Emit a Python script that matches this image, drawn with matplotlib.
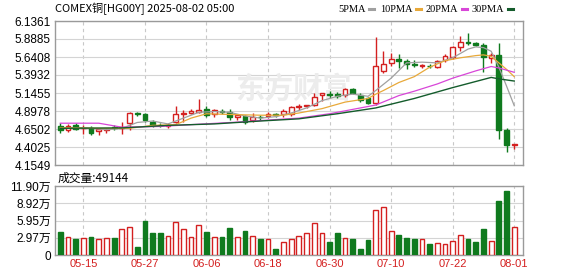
import matplotlib
matplotlib.use('Agg')
import matplotlib.pyplot as plt
from matplotlib.lines import Line2D

plt.rcParams['font.family'] = ['Liberation Sans', 'Noto Sans CJK SC', 'DejaVu Sans']

# daily candles, 2025-05-12 .. 2025-08-01
opens = [4.69, 4.64, 4.70, 4.66, 4.67, 4.62, 4.63, 4.68, 4.67, 4.73,
         4.87, 4.85, 4.75, 4.71, 4.69, 4.74, 4.86, 4.87, 4.885, 4.92,
         4.855, 4.90, 4.88, 4.82, 4.83, 4.77, 4.82, 4.83, 4.85, 4.86,
         4.86, 4.95, 4.965, 4.98, 5.12, 5.13, 5.125, 5.12, 5.20, 5.12,
         5.07, 5.01, 5.45, 5.555, 5.62, 5.59, 5.55, 5.515, 5.52, 5.51,
         5.60, 5.645, 5.774, 5.85, 5.84, 5.81, 5.63, 5.668, 4.64, 4.43]
highs = [4.73, 4.72, 4.73, 4.70, 4.69, 4.66, 4.67, 4.70, 4.74, 4.89,
         4.89, 4.87, 4.78, 4.73, 4.73, 4.96, 4.91, 4.93, 5.06, 4.96,
         4.93, 4.93, 4.92, 4.86, 4.84, 4.87, 4.84, 4.88, 4.87, 4.93,
         4.96, 5.00, 4.98, 5.15, 5.15, 5.17, 5.16, 5.22, 5.22, 5.15,
         5.095, 5.91, 5.73, 5.69, 5.68, 5.61, 5.60, 5.55, 5.54, 5.60,
         5.68, 5.79, 5.93, 5.97, 5.85, 5.84, 5.69, 5.84, 4.66, 4.445]
lows = [4.59, 4.61, 4.63, 4.58, 4.57, 4.57, 4.60, 4.64, 4.58, 4.64,
        4.83, 4.75, 4.68, 4.68, 4.66, 4.73, 4.74, 4.85, 4.87, 4.81,
        4.82, 4.85, 4.78, 4.78, 4.72, 4.74, 4.78, 4.80, 4.81, 4.81,
        4.83, 4.91, 4.94, 4.96, 5.03, 5.07, 5.08, 5.095, 5.13, 5.02,
        4.99, 4.98, 5.42, 5.52, 5.49, 5.47, 5.50, 5.49, 5.49, 5.49,
        5.57, 5.61, 5.73, 5.80, 5.79, 5.44, 5.554, 4.51, 4.33, 4.37]
closes = [4.63, 4.69, 4.65, 4.67, 4.59, 4.645, 4.655, 4.66, 4.68, 4.87,
          4.85, 4.77, 4.70, 4.70, 4.71, 4.86, 4.875, 4.90, 4.905, 4.84,
          4.91, 4.885, 4.81, 4.84, 4.74, 4.82, 4.81, 4.85, 4.84, 4.90,
          4.95, 4.965, 4.975, 5.095, 5.14, 5.115, 5.11, 5.196, 5.14, 5.05,
          5.01, 5.52, 5.55, 5.62, 5.59, 5.545, 5.535, 5.525, 5.515, 5.585,
          5.655, 5.774, 5.85, 5.84, 5.81, 5.645, 5.668, 4.63, 4.435, 4.44]
# volume in 万 (10k contracts)
volume_wan = [4.02, 3.09, 2.80, 2.97, 3.15, 2.74, 2.97, 2.97, 4.49, 4.90,
              1.40, 5.83, 3.73, 3.73, 3.32, 5.77, 4.49, 3.15, 5.25, 4.02,
              3.15, 3.15, 4.72, 3.15, 4.20, 3.32, 2.80, 2.80, 1.05, 2.27,
              2.74, 3.32, 3.73, 5.60, 3.85, 2.16, 3.73, 2.97, 2.80, 1.05,
              2.62, 7.80, 8.20, 4.14, 3.50, 2.97, 2.80, 2.74, 1.98, 2.10,
              1.98, 2.45, 3.50, 2.80, 2.16, 4.55, 2.45, 9.28, 11.03, 4.9144]

# moving averages (bar index, value)
ma5_idx = [0, 3, 6, 8, 10, 12, 14, 16, 18, 20, 22, 24, 26, 28, 30, 32, 34, 36,
           38, 40, 41, 43, 45, 47, 49, 51, 53, 54, 55, 56, 57, 58, 59]
ma5_val = [4.66, 4.67, 4.64, 4.66, 4.74, 4.76, 4.72, 4.80, 4.88, 4.89, 4.88,
           4.83, 4.80, 4.82, 4.87, 4.94, 5.04, 5.10, 5.13, 5.10, 5.18, 5.35,
           5.56, 5.57, 5.56, 5.63, 5.75, 5.78, 5.77, 5.72, 5.50, 5.24, 4.97]
ma10_idx = [0, 5, 9, 12, 15, 17, 19, 22, 26, 29, 31, 34, 37, 40, 41, 42, 44,
            46, 48, 50, 52, 54, 55, 56, 57, 58, 59]
ma10_val = [4.67, 4.66, 4.66, 4.70, 4.71, 4.80, 4.86, 4.85, 4.84, 4.84, 4.87,
            4.93, 5.02, 5.07, 5.13, 5.18, 5.29, 5.37, 5.50, 5.59, 5.63, 5.66,
            5.67, 5.65, 5.56, 5.47, 5.37]
ma20_idx = [0, 5, 8, 13, 17, 23, 28, 31, 35, 38, 41, 44, 46, 49, 51, 54, 56,
            57, 58, 59]
ma20_val = [4.73, 4.73, 4.675, 4.685, 4.71, 4.745, 4.78, 4.80, 4.86, 4.92,
            4.98, 5.11, 5.17, 5.27, 5.35, 5.45, 5.51, 5.49, 5.46, 5.43]
ma30_idx = [0, 8, 14, 20, 26, 31, 36, 41, 46, 51, 56, 57, 59]
ma30_val = [4.66, 4.665, 4.70, 4.72, 4.76, 4.79, 4.86, 4.94, 5.07, 5.22,
            5.36, 5.34, 5.31]

price_ticks = ['4.1549', '4.4025', '4.6502', '4.8978', '5.1455', '5.3932',
               '5.6408', '5.8885', '6.1361']
vol_ticks = [0, 29750, 59500, 89250, 119000]
vol_labels = ['0', '2.97万', '5.95万', '8.92万', '11.90万']
date_idx = [3, 11, 19, 27, 35, 43, 51, 59]
date_labels = ['05-15', '05-27', '06-06', '06-18', '06-30', '07-10', '07-22', '08-01']

RED = '#d42020'
GREEN = '#0f7a1e'
W, H = 578, 276

fig = plt.figure(figsize=(W / 100, H / 100), dpi=100)
ax = fig.add_axes([55 / W, 1 - 165 / H, 467.5 / W, 144 / H])
axv = fig.add_axes([55 / W, 1 - 255 / H, 467.5 / W, 69 / H])

x = list(range(len(closes)))
up = [c >= o for o, c in zip(opens, closes)]
cols = [RED if u else GREEN for u in up]

# wicks then bodies
ax.vlines(x, lows, highs, colors=cols, linewidth=1, zorder=3)
bottoms = [min(o, c) for o, c in zip(opens, closes)]
heights = [max(abs(c - o), 0.006) for o, c in zip(opens, closes)]
faces = ['white' if u else GREEN for u in up]
ax.bar(x, heights, bottom=bottoms, width=0.62, color=faces, edgecolor=cols,
       linewidth=1, zorder=4)

ax.plot(ma5_idx, ma5_val, color='#a0a0a0', lw=0.9, zorder=5)
ax.plot(ma10_idx, ma10_val, color='#e8a93a', lw=0.9, zorder=5)
ax.plot(ma20_idx, ma20_val, color='#d846d8', lw=0.9, zorder=5)
ax.plot(ma30_idx, ma30_val, color='#145c2c', lw=1.0, zorder=5)

pt = [float(t) for t in price_ticks]
ax.set_ylim(pt[0], pt[-1])
ax.set_yticks(pt)
ax.set_yticklabels(price_ticks)
ax.text(0.51, 0.53, '东方财富', transform=ax.transAxes, ha='center', va='center',
        fontsize=21, fontweight='bold', color='#ececec', family='Noto Sans CJK SC',
        zorder=1)

# volume
vol = [v * 10000 for v in volume_wan]
vfaces = ['white' if u else GREEN for u in up]
axv.bar(x, vol, width=0.62, color=vfaces, edgecolor=cols, linewidth=1, zorder=3)
axv.set_ylim(0, vol_ticks[-1])
axv.set_yticks(vol_ticks)
axv.set_yticklabels(vol_labels)
axv.text(0.006, 1.02, '成交量:49144', transform=axv.transAxes, ha='left',
         va='bottom', fontsize=8.5, family=['Noto Sans CJK SC', 'DejaVu Sans'])

for a in (ax, axv):
    a.set_xlim(-0.69, 60.07)
    a.set_xticks(date_idx)
    a.grid(axis='y', color='#d4d4d4', linewidth=0.8, zorder=0)
    for d in date_idx:
        a.axvline(d, color='#c8c8c8', linestyle=(0, (3, 3)), linewidth=0.8, zorder=0)
    a.tick_params(length=0, labelsize=8.5, pad=3)
    for s in a.spines.values():
        s.set_color('#9a9a9a')
        s.set_linewidth(1)
    a.set_axisbelow(True)

ax.set_xticklabels([])
axv.set_xticklabels(date_labels, color=RED, fontsize=8)

# header
fig.text(55 / W, 1 - 9 / H, 'COMEX铜[HG00Y] 2025-08-02 05:00', ha='left', va='center',
         fontsize=8, family=['Noto Sans CJK SC', 'DejaVu Sans'])
legend = [('5PMA', '#a0a0a0', 338), ('10PMA', '#e8a93a', 380),
          ('20PMA', '#d846d8', 426), ('30PMA', '#145c2c', 472)]
for name, c, px in legend:
    t = fig.text(px / W, 1 - 9 / H, name, ha='left', va='center', fontsize=7.5,
                 family='Liberation Serif')
    fig.canvas.draw()
    bb = t.get_window_extent()
    x0 = bb.x1 + 3
    fig.add_artist(Line2D([x0 / W, (x0 + 5) / W], [1 - 9 / H, 1 - 9 / H],
                          color=c, linewidth=2.2, transform=fig.transFigure))

fig.savefig('out.png', dpi=100)
